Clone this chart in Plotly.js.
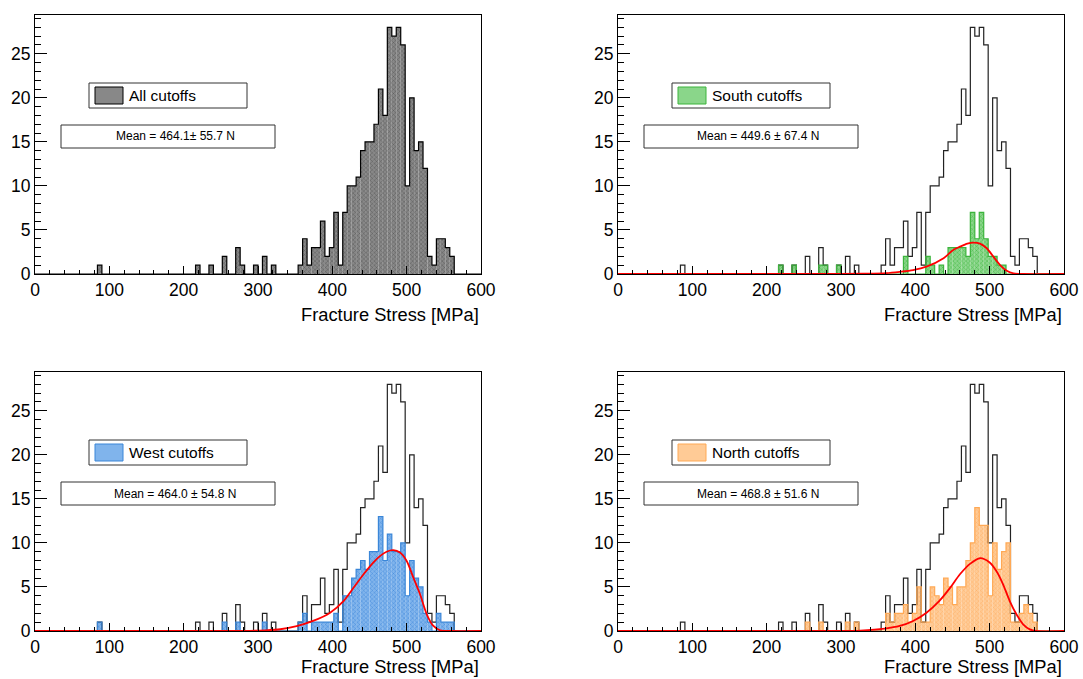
<!DOCTYPE html>
<html><head><meta charset="utf-8">
<script src="https://cdn.plot.ly/plotly-3.0.1.min.js"></script>
<style>body{margin:0;background:#fff}#chart{width:1083px;height:679px}</style>
</head><body><div id="chart"></div>
<script>
// ---------------- DATA ----------------
const binWidth = 6;          // MPa, 100 bins from 0 to 600
const xTickLabels = ['0','100','200','300','400','500','600'];
const yTickLabels = ['0','5','10','15','20','25'];
const seriesNames = ['All cutoffs','South cutoffs','West cutoffs','North cutoffs'];
const meanLabels = ['Mean = 464.1\u00b1 55.7 N','Mean = 449.6 \u00b1 67.4 N','Mean = 464.0 \u00b1 54.8 N','Mean = 468.8 \u00b1 51.6 N'];

// counts per bin, bin k = [6k, 6k+6) MPa
const allCounts = [
 0,0,0,0,0,0,0,0,0,0,  0,0,0,0,1,0,0,0,0,0,
 0,0,0,0,0,0,0,0,0,0,  0,0,0,0,0,0,1,0,0,1,
 0,0,2,0,0,3,1,0,0,1,  0,2,0,1,0,0,0,0,0,1,
 4,1,3,3,6,2,3,7,1,7,  10,10,11,14,15,15,17,21,18,28,
 27,28,26,10,20,14,15,12,2,1,  4,4,3,2,0,0,0,0,0,0];
const southCounts = [
 0,0,0,0,0,0,0,0,0,0,  0,0,0,0,0,0,0,0,0,0,
 0,0,0,0,0,0,0,0,0,0,  0,0,0,0,0,0,1,0,0,1,
 0,0,0,0,0,1,1,0,0,1,  0,0,0,0,0,0,0,0,0,0,
 0,0,0,0,2,0,0,0,0,2,  1,0,1,0,3,3,3,3,2,7,
 4,7,4,2,2,1,1,0,0,0,  0,0,0,0,0,0,0,0,0,0];
const westCounts = [
 0,0,0,0,0,0,0,0,0,0,  0,0,0,0,1,0,0,0,0,0,
 0,0,0,0,0,0,0,0,0,0,  0,0,0,0,0,0,0,0,0,0,
 0,0,1,0,0,1,0,0,0,0,  0,1,0,0,0,0,0,0,0,1,
 2,0,1,1,1,1,1,2,0,4,  4,6,7,8,7,9,9,13,8,11,
 9,9,10,4,8,6,5,2,1,0,  2,1,1,1,0,0,0,0,0,0];
const northCounts = [
 0,0,0,0,0,0,0,0,0,0,  0,0,0,0,0,0,0,0,0,0,
 0,0,0,0,0,0,0,0,0,0,  0,0,0,0,0,0,0,0,0,0,
 0,0,1,0,0,1,0,0,0,0,  0,1,0,1,0,0,0,0,0,0,
 2,1,2,2,3,1,2,5,1,1,  5,4,3,6,5,3,5,5,8,10,
 14,12,12,4,10,7,9,10,1,1,  2,3,2,1,0,0,0,0,0,0];

// fitted curves (MPa, entries)
const southFitX = [0,300,330,361,379,397,415,438,451,460,470,478,487,496,505,514,523,532,545,600];
const southFitY = [0,0,0.03,0.1,0.25,0.45,0.83,1.78,2.73,3.1,3.45,3.56,3.45,2.92,1.97,1.02,0.38,0.08,0,0];
const westFitX = [0,280,310,330,352,374,397,415,428,442,455,464,473,482,491,500,509,518,527,536,545,560,600];
const westFitY = [0,0,0.08,0.2,0.55,1.14,2.08,3.4,4.85,6.44,7.77,8.5,9.0,9.17,8.9,7.95,6.06,4.17,1.9,0.57,0.08,0,0];
const northFitX = [0,300,326,359,379,397,415,433,447,460,474,487,500,509,518,527,536,545,554,563,600];
const northFitY = [0,0,0.05,0.27,0.57,1.14,2.08,3.48,4.92,6.44,7.65,8.26,7.77,6.8,5.3,3.4,1.9,0.76,0.19,0,0];

// ---------------- LAYOUT / DRAW ----------------
const W = 1083, H = 679;
const FONT = 'Liberation Sans, Arial, Helvetica, sans-serif';
const px = v => v / W;
const py = v => 1 - v / H;

const panels = [
  {counts: allCounts, fill:'#888888', fg:'#505050', line:'#000000', fitX:null, fitY:null, dx:0, dy:0, titleY:314},
  {counts: southCounts, fill:'#8ad68a', fg:'#3cb43c', line:'#3cb43c', fitX:southFitX, fitY:southFitY, dx:583, dy:0, titleY:314},
  {counts: westCounts, fill:'#80b4ec', fg:'#3a84d8', line:'#3a86d8', fitX:westFitX, fitY:westFitY, dx:0, dy:357, titleY:666},
  {counts: northCounts, fill:'#ffcb96', fg:'#ffad60', line:'#ffa955', fitX:northFitX, fitY:northFitY, dx:583, dy:357, titleY:666}
];

const traces = [];
const layout = {
  width: W, height: H, margin:{l:0,r:0,t:0,b:0},
  paper_bgcolor:'#ffffff', plot_bgcolor:'#ffffff',
  showlegend:false, barmode:'overlay',
  shapes:[], annotations:[]
};

function stepXY(counts){
  const x=[], y=[];
  for(let k=0;k<counts.length;k++){ x.push(k*binWidth); y.push(counts[k]); }
  x.push(counts.length*binWidth); y.push(counts[counts.length-1]);
  return {x, y};
}

panels.forEach((p, i) => {
  const n = i === 0 ? '' : String(i+1);
  const xa = 'x'+n, ya = 'y'+n;
  const left = 35 + p.dx, right = 481 + p.dx, top = 15 + p.dy, bottom = 274 + p.dy;
  layout['xaxis'+n] = {
    domain:[px(left), px(right)], anchor: ya, range:[0,600],
    tickmode:'array', tickvals: xTickLabels.map(Number), ticktext: xTickLabels,
    ticks:'inside', ticklen:8, tickwidth:1, tickcolor:'#000',
    minor:{ticks:'inside', dtick:20, tick0:0, ticklen:4, tickwidth:1, tickcolor:'#000'},
    showline:true, linecolor:'#000', linewidth:1, mirror:true,
    showgrid:false, zeroline:false, fixedrange:true,
    tickfont:{family:FONT, size:17.5, color:'#000'}
  };
  layout['yaxis'+n] = {
    domain:[py(bottom), py(top)], anchor: xa, range:[0,29.4],
    tickmode:'array', tickvals: yTickLabels.map(Number), ticktext: yTickLabels,
    ticks:'inside', ticklen:12, tickwidth:1, tickcolor:'#000',
    minor:{ticks:'inside', dtick:1, tick0:0, ticklen:6, tickwidth:1, tickcolor:'#000'},
    showline:true, linecolor:'#000', linewidth:1, mirror:true,
    showgrid:false, zeroline:false, fixedrange:true,
    tickfont:{family:FONT, size:17.5, color:'#000'}
  };

  const centers = p.counts.map((_, k) => k*binWidth + binWidth/2);
  if (i > 0) {
    const s = stepXY(allCounts);
    traces.push({type:'scatter', mode:'lines', x:s.x, y:s.y, xaxis:xa, yaxis:ya,
      line:{shape:'hv', color:'#222', width:1.2}, hoverinfo:'skip'});
  }
  traces.push({type:'bar', x:centers, y:p.counts, width:binWidth, xaxis:xa, yaxis:ya,
    marker:{color:p.fill, line:{width:0},
      pattern:{shape:'x', fillmode:'replace', bgcolor:p.fill, fgcolor:p.fg, size:3, solidity:0.25}},
    hoverinfo:'skip'});
  const so = stepXY(p.counts);
  traces.push({type:'scatter', mode:'lines', x:so.x, y:so.y, xaxis:xa, yaxis:ya,
    line:{shape:'hv', color:p.line, width:1.2}, hoverinfo:'skip'});
  if (p.fitX) {
    traces.push({type:'scatter', mode:'lines', x:p.fitX, y:p.fitY, xaxis:xa, yaxis:ya,
      line:{shape:'spline', smoothing:0.8, color:'#ff0000', width:1.8}, hoverinfo:'skip'});
  }

  // axis title (right aligned, ROOT style)
  layout.annotations.push({xref:'paper', yref:'paper', x:px(right), y:py(p.titleY),
    xanchor:'right', yanchor:'middle', showarrow:false, text:'Fracture Stress [MPa]',
    font:{family:FONT, size:18.3, color:'#000'}});

  // legend box
  layout.shapes.push({type:'rect', xref:'paper', yref:'paper',
    x0:px(89+p.dx), x1:px(247+p.dx), y0:py(83+p.dy), y1:py(108+p.dy),
    line:{color:'#333', width:1}, fillcolor:'#fff'});
  layout.shapes.push({type:'rect', xref:'paper', yref:'paper',
    x0:px(95+p.dx), x1:px(123+p.dx), y0:py(87+p.dy), y1:py(104+p.dy),
    line:{color:p.line, width:1}, fillcolor:p.fill});
  layout.annotations.push({xref:'paper', yref:'paper', x:px(127+p.dx), y:py(95.5+p.dy),
    xanchor:'left', yanchor:'middle', showarrow:false, text:seriesNames[i],
    font:{family:FONT, size:15.5, color:'#000'}});

  // mean box
  layout.shapes.push({type:'rect', xref:'paper', yref:'paper',
    x0:px(61+p.dx), x1:px(275+p.dx), y0:py(125+p.dy), y1:py(148+p.dy),
    line:{color:'#333', width:1}, fillcolor:'#fff'});
  layout.annotations.push({xref:'paper', yref:'paper', x:px(175+p.dx), y:py(136.5+p.dy),
    xanchor:'center', yanchor:'middle', showarrow:false, text:meanLabels[i],
    font:{family:FONT, size:12, color:'#000'}});
});

Plotly.newPlot('chart', traces, layout, {staticPlot:true, displayModeBar:false});
</script>
</body></html>
